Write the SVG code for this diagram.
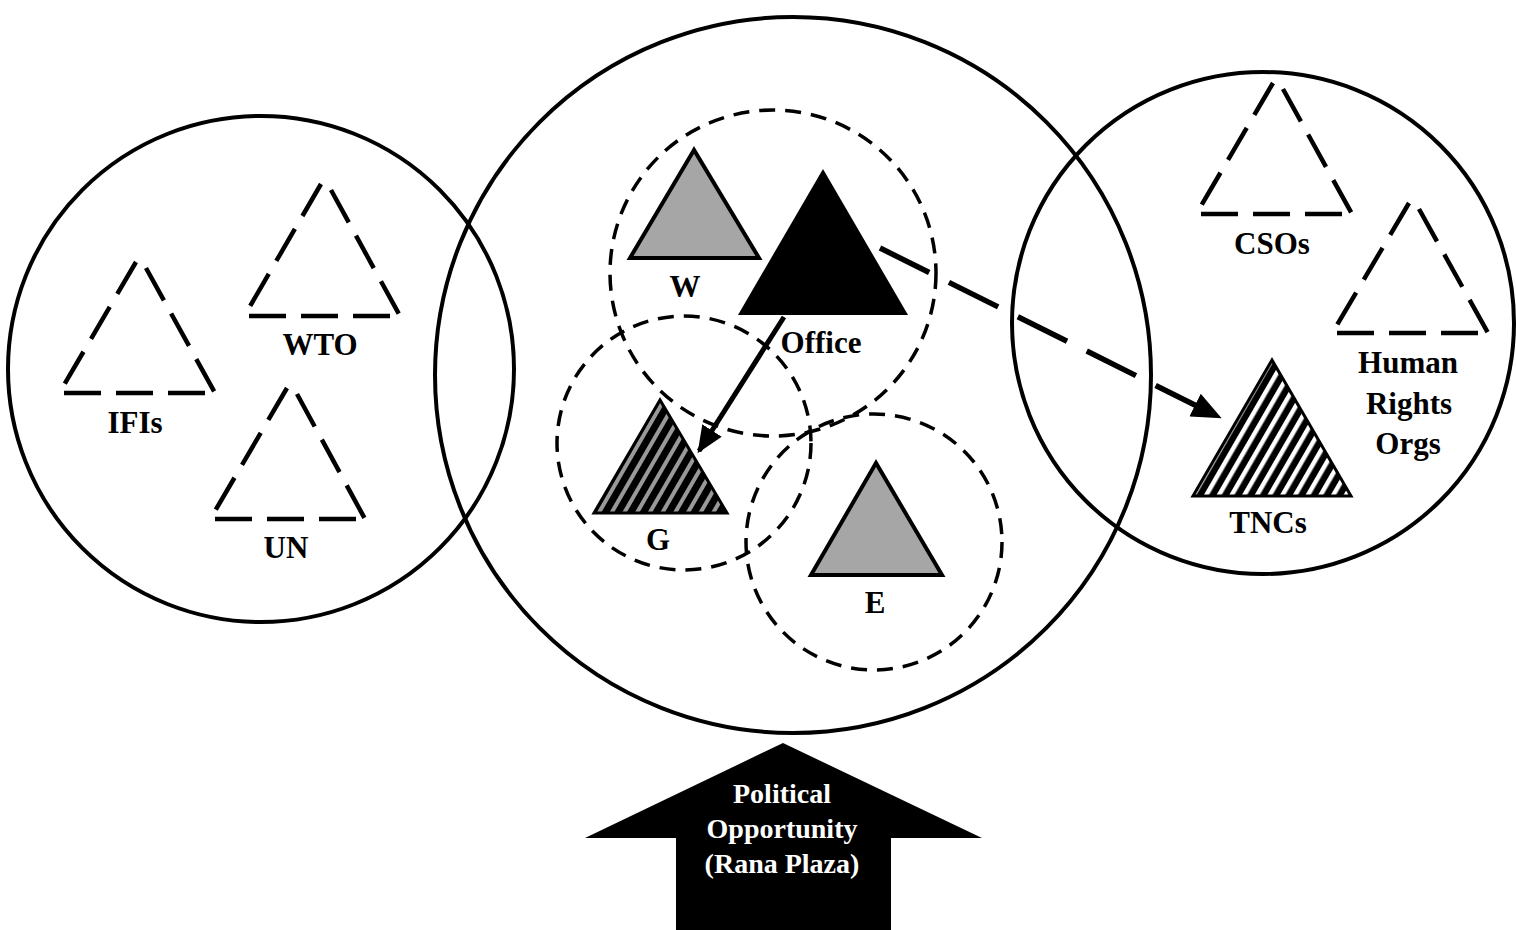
<svg xmlns="http://www.w3.org/2000/svg" width="1516" height="930" viewBox="0 0 1516 930">
<defs>
<style>
.big{fill:none;stroke:#000;stroke-width:4}
.dc{fill:none;stroke:#000;stroke-width:3.5;stroke-dasharray:16 10}
.dt{fill:none;stroke:#000;stroke-width:4.5;stroke-dasharray:37 15}
.lbl{font-family:'Liberation Serif','Times New Roman','DejaVu Serif',serif;font-weight:bold;font-size:31px;fill:#000;text-anchor:middle}
.wl{font-family:'Liberation Serif','Times New Roman','DejaVu Serif',serif;font-weight:bold;font-size:28px;fill:#fff;text-anchor:middle}
.gray{fill:#a6a6a6;stroke:#000;stroke-width:4;stroke-linejoin:miter}
</style>
<pattern id="hatchG" width="11" height="11" patternUnits="userSpaceOnUse" patternTransform="rotate(30)">
<rect width="11" height="11" fill="#000"/>
<rect x="3" width="4" height="11" fill="#999"/>
</pattern>
<pattern id="hatchW" width="11" height="11" patternUnits="userSpaceOnUse" patternTransform="rotate(30)">
<rect width="11" height="11" fill="#000"/>
<rect x="3" width="4.5" height="11" fill="#fff"/>
</pattern>
<marker id="ah" viewBox="0 0 10 10" refX="9" refY="5" markerWidth="5.4" markerHeight="4.6" orient="auto" markerUnits="strokeWidth" preserveAspectRatio="none">
<path d="M0,0 L10,5 L0,10 z" fill="#000"/>
</marker>
</defs>
<rect width="1516" height="930" fill="#fff"/>

<g id="domains">
<circle id="left-domain" class="big" cx="261" cy="369" r="253"/>
<circle id="middle-domain" class="big" cx="793" cy="375" r="358"/>
<circle id="right-domain" class="big" cx="1263" cy="323" r="251"/>
<circle id="wo-circle" class="dc" cx="773" cy="273" r="163"/>
<circle id="g-circle" class="dc" cx="684" cy="443" r="127"/>
<circle id="e-circle" class="dc" cx="874" cy="542" r="128"/>
</g>

<g id="node-ifis">
<path class="dt" d="M64,393 L215,393 M136,262 L64,385 M146,268 L215,393"/>
<text class="lbl" x="135" y="433">IFIs</text>
</g>
<g id="node-wto">
<path class="dt" d="M249,316 L400,316 M321,184 L249,308 M331,190 L400,316"/>
<text class="lbl" x="320" y="355">WTO</text>
</g>
<g id="node-un">
<path class="dt" d="M215,519 L365,519 M287,388 L215,511 M297,394 L365,519"/>
<text class="lbl" x="286" y="558">UN</text>
</g>
<g id="node-csos">
<path class="dt" d="M1201,214 L1352,214 M1273,83 L1201,206 M1283,89 L1352,214"/>
<text class="lbl" x="1272" y="254">CSOs</text>
</g>
<g id="node-hro">
<path class="dt" d="M1337,333 L1488,333 M1409,203 L1337,325 M1419,209 L1488,333"/>
<text class="lbl" x="1408" y="373">Human</text>
<text class="lbl" x="1409" y="414">Rights</text>
<text class="lbl" x="1408" y="454">Orgs</text>
</g>

<g id="node-w">
<polygon class="gray" points="694,150 630,258 759,258"/>
<text class="lbl" x="685" y="297">W</text>
</g>
<g id="node-office">
<polygon fill="#000" points="823,169 738,315 908,315"/>
<text class="lbl" x="821" y="353">Office</text>
</g>
<g id="node-g">
<polygon fill="url(#hatchG)" stroke="#000" stroke-width="3" points="660,400 594,513 727,513"/>
<text class="lbl" x="658" y="550">G</text>
</g>
<g id="node-e">
<polygon class="gray" points="876,463 811,575 942,575"/>
<text class="lbl" x="875" y="613">E</text>
</g>
<g id="node-tncs">
<polygon fill="url(#hatchW)" stroke="#000" stroke-width="3" points="1272,360 1193,496 1351,496"/>
<text class="lbl" x="1268" y="533">TNCs</text>
</g>

<g id="connectors">
<line x1="784" y1="317" x2="699" y2="451" stroke="#000" stroke-width="5" marker-end="url(#ah)"/>
<line x1="880" y1="248" x2="1219" y2="417" stroke="#000" stroke-width="5.5" stroke-dasharray="55 22" marker-end="url(#ah)"/>
</g>

<g id="node-political">
<polygon fill="#000" points="783,743 982,838 891,838 891,930 676,930 676,838 585,838"/>
<text class="wl" x="782" y="803">Political</text>
<text class="wl" x="782" y="838">Opportunity</text>
<text class="wl" x="782" y="873">(Rana Plaza)</text>
</g>
</svg>
